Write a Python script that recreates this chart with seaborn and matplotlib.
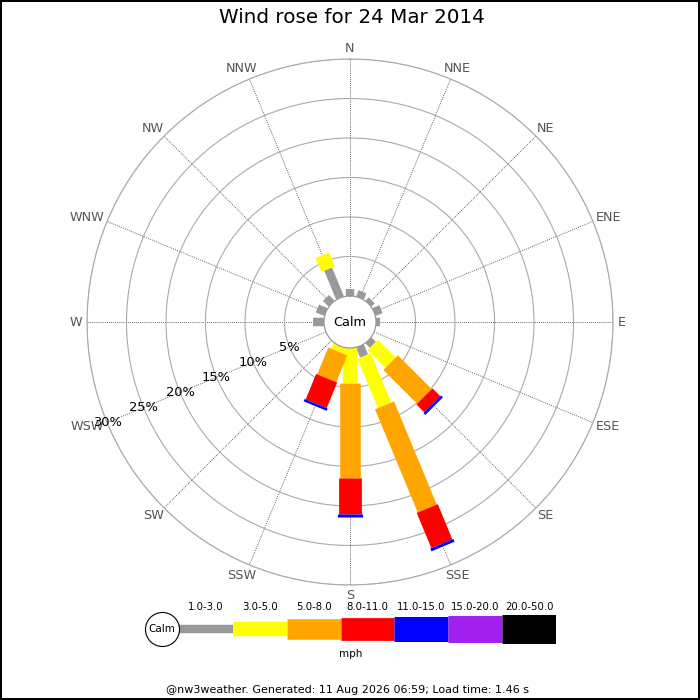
import numpy as np
import pandas as pd
import matplotlib
matplotlib.use("Agg")
import matplotlib.pyplot as plt
import seaborn as sns

# wind rose data, percent of time per direction and speed band (mph)
directions = ['N', 'NNE', 'NE', 'ENE', 'E', 'ESE', 'SE', 'SSE',
              'S', 'SSW', 'SW', 'WSW', 'W', 'WNW', 'NW', 'NNW']
bands = ['1.0-3.0', '3.0-5.0', '5.0-8.0', '8.0-11.0', '11.0-15.0', '15.0-20.0', '20.0-50.0']
band_colors = ['#999999', '#ffff00', '#ffa500', '#ff0000', '#0000ff', '#a020f0', '#000000']
band_widths = [6.1, 10.4, 14.8, 16.4, 18.0, 19.4, 20.9]  # line widths in points

pct_1_3 = [0.85, 0.86, 0.6, 0.96, 0.51, 0, 0.8, 1.37, 0, 0, 0, 0, 1.35, 1.18, 1.01, 3.96]
pct_3_5 = [0, 0, 0, 0, 0, 0, 3.19, 6.77, 4.47, 0.75, 0, 0, 0, 0, 0, 1.91]
pct_5_8 = [0, 0, 0, 0, 0, 0, 6.05, 14.13, 11.95, 3.67, 0, 0, 0, 0, 0, 0]
pct_8_11 = [0, 0, 0, 0, 0, 0, 1.4, 4.82, 4.59, 3.49, 0, 0, 0, 0, 0, 0]
pct_11_15 = [0, 0, 0, 0, 0, 0, 0.33, 0.38, 0.34, 0.32, 0, 0, 0, 0, 0, 0]
pct_15_20 = [0] * 16
pct_20_50 = [0] * 16

rings = [5, 10, 15, 20, 25, 30]
calm_offset = 3.29  # radius of the calm circle, in percent units

title = 'Wind rose for 24 Mar 2014'
footer = '@nw3weather. Generated: 11 Aug 2026 06:59; Load time: 1.46 s'

# long-form table: one segment (two rows) per direction and band
table = np.array([pct_1_3, pct_3_5, pct_5_8, pct_8_11, pct_11_15, pct_15_20, pct_20_50])
cum = np.vstack([np.zeros(16), np.cumsum(table, axis=0)])
rows = []
seg = 0
for b, band in enumerate(bands):
    for d in range(16):
        if table[b, d] <= 0:
            continue
        th = np.deg2rad(d * 22.5)
        rows.append((th, cum[b, d], seg, band))
        rows.append((th, cum[b + 1, d], seg, band))
        seg += 1
df = pd.DataFrame(rows, columns=['theta', 'r', 'seg', 'band'])

sns.set_style('white')
plt.rcParams['font.family'] = ['DejaVu Sans']
plt.rcParams['text.color'] = 'black'

fig = plt.figure(figsize=(7, 7), dpi=100)
fig.patch.set_edgecolor('black')
fig.patch.set_linewidth(1.5)

ax = fig.add_axes([0.1243, 0.1643, 0.7514, 0.7514], projection='polar')
ax.set_theta_zero_location('N')
ax.set_theta_direction(-1)
ax.set_axisbelow(True)

sns.lineplot(data=df, x='theta', y='r', hue='band', size='band',
             palette=dict(zip(bands, band_colors)), sizes=dict(zip(bands, band_widths)),
             units='seg', estimator=None, sort=False, legend=False,
             solid_capstyle='butt', ax=ax)

ax.set_rorigin(-calm_offset)
ax.set_ylim(0, rings[-1])
ax.set_xlabel('')
ax.set_ylabel('')

angles = np.deg2rad(np.arange(16) * 22.5)
ax.set_xticks(angles, labels=[])
ax.set_yticks(rings, labels=[])
ax.xaxis.grid(True, color='#333333', linestyle=(0, (1, 1.5)), linewidth=0.6)
ax.yaxis.grid(True, color='#aaaaaa', linestyle='-', linewidth=0.8)
ax.spines['polar'].set_color('#aaaaaa')
ax.spines['polar'].set_linewidth(0.8)
ax.spines['inner'].set_color('#999999')
ax.spines['inner'].set_linewidth(0.9)

# compass labels: box pushed outward so it clears the outer ring
renderer = fig.canvas.get_renderer()
gap = 4.5  # px
for th, name in zip(angles, directions):
    t = ax.annotate(name, xy=(th, rings[-1]), xytext=(0, 0), textcoords='offset points',
                    ha='center', va='center', fontsize=9.2, color='#555555',
                    annotation_clip=False)
    bb = t.get_window_extent(renderer)
    dx = np.sin(th) * (bb.width / 2 + gap)
    dy = np.cos(th) * (bb.height / 2 + gap)
    t.set_position((dx * 72 / fig.dpi, dy * 72 / fig.dpi))

label_angle = np.deg2rad(247.5)
for r in rings:
    ax.text(label_angle, r, f'{r}%', ha='center', va='center', fontsize=9.4, color='black')
ax.text(0.5, 0.5, 'Calm', transform=ax.transAxes, ha='center', va='center', fontsize=9.3)

fig.text(0.502, 0.9757, title, ha='center', va='center', fontsize=14.3, color='black')

# legend strip below the rose
lax = fig.add_axes([0.2557, 0.0729, 0.5386, 0.0571])
lax.set_xlim(0, len(bands))
lax.set_ylim(-1, 1)
lax.axis('off')
lax.hlines([0] * len(bands), np.arange(len(bands)), np.arange(len(bands)) + 1,
           colors=band_colors, linewidths=band_widths, capstyle='butt')
for i, band in enumerate(bands):
    lax.annotate(band, xy=(i + 0.5, 0), xytext=(0, 16), textcoords='offset points',
                 ha='center', va='center', fontsize=7.3)
lax.plot([-0.315], [0], marker='o', markersize=24.5, markerfacecolor='white',
         markeredgecolor='black', markeredgewidth=0.8, clip_on=False)
lax.text(-0.315, 0, 'Calm', ha='center', va='center', fontsize=7.5)

fig.text(0.501, 1 - 654 / 700, 'mph', ha='center', va='center', fontsize=7.5)
fig.text(0.497, 1 - 690 / 700, footer, ha='center', va='center', fontsize=8)

fig.savefig('out.png', dpi=100, facecolor='white', edgecolor=fig.get_edgecolor())
